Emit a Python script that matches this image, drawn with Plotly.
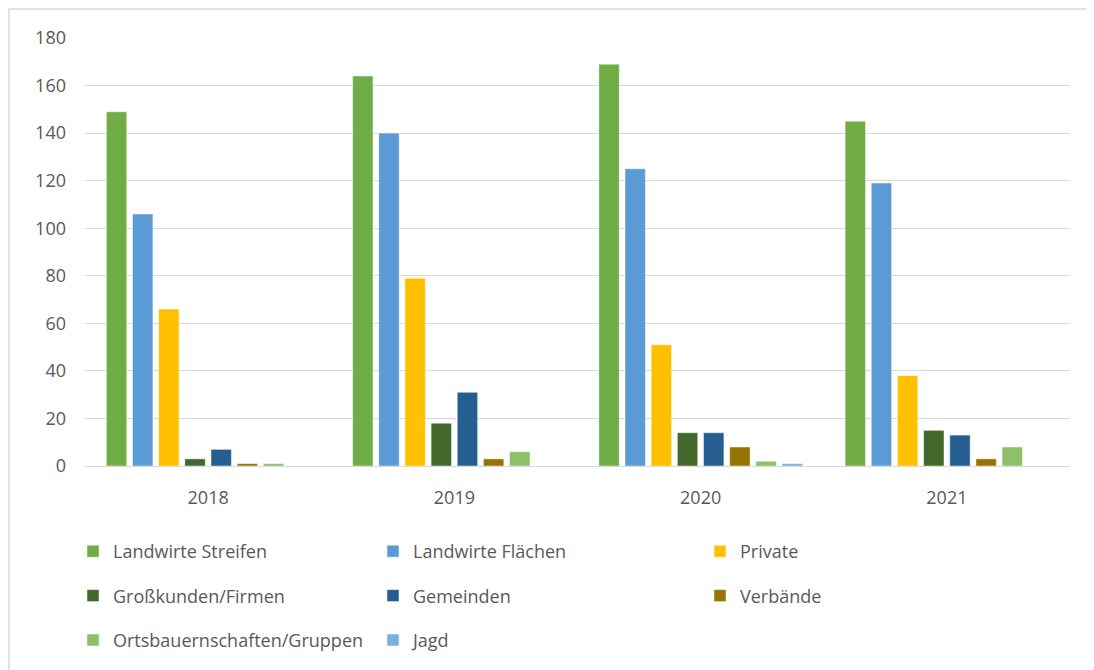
import plotly.graph_objects as go

years = ['2018', '2019', '2020', '2021']

landwirte_streifen = [149, 164, 169, 145]
landwirte_flaechen = [106, 140, 125, 119]
private = [66, 79, 51, 38]
grosskunden = [3, 18, 14, 15]
gemeinden = [7, 31, 14, 13]
verbaende = [1, 3, 8, 3]
ortsbauern = [1, 6, 2, 8]
jagd = [0, 0, 1, 0]

# name, values, colour, which legend column
series = [
    ('Landwirte Streifen', landwirte_streifen, '#70AD47', 'legend'),
    ('Landwirte Flächen', landwirte_flaechen, '#5B9BD5', 'legend2'),
    ('Private', private, '#FFC000', 'legend3'),
    ('Großkunden/Firmen', grosskunden, '#43682B', 'legend'),
    ('Gemeinden', gemeinden, '#255E91', 'legend2'),
    ('Verbände', verbaende, '#997300', 'legend3'),
    ('Ortsbauernschaften/Gruppen', ortsbauern, '#8CC168', 'legend'),
    ('Jagd', jagd, '#7CAFDD', 'legend2'),
]

# page has an 8px body margin, so the figure is shrunk and shifted by that
W, H = 1086, 662
L, R, T, B = 77, 24, 30, 204
pw, ph = W - L - R, H - T - B

def px_x(x):
    return (x - L) / pw

def px_y(y):
    return (H - B - y) / ph

fig = go.Figure()
for name, vals, col, leg in series:
    fig.add_trace(go.Bar(
        x=years, y=vals, name=name,
        marker=dict(color=col, line=dict(color='rgba(255,255,255,0.6)', width=0.8)),
        legend=leg, legendgroup=name,
    ))

font = dict(family='Open Sans, sans-serif', size=18, color='#595959')
leg_common = dict(orientation='v', font=font, tracegroupgap=18, traceorder='grouped',
                  xref='container', yref='container',
                  xanchor='left', yanchor='top', bgcolor='rgba(0,0,0,0)',
                  itemclick=False, itemdoubleclick=False)

fig.update_layout(
    width=W, height=H,
    margin=dict(l=L, r=R, t=T, b=B, autoexpand=False),
    plot_bgcolor='white', paper_bgcolor='white',
    font=font,
    barmode='group', bargap=0.15, bargroupgap=0.22,
    xaxis=dict(showgrid=False, showline=True, linecolor='#D9D9D9', linewidth=1,
               ticks='', ticklabelstandoff=15, tickfont=font),
    yaxis=dict(range=[0, 180], dtick=20, showgrid=True, gridcolor='#D9D9D9', gridwidth=1,
               zeroline=False, showline=False, ticks='', ticklabelstandoff=18, tickfont=font),
    legend=dict(x=65 / W, y=1 - 525 / H, **leg_common),
    legend2=dict(x=365 / W, y=1 - 525 / H, **leg_common),
    legend3=dict(x=692 / W, y=1 - 525 / H, **leg_common),
    shapes=[dict(type='rect', xref='paper', yref='paper',
                 x0=px_x(1), x1=px_x(W + 60), y0=px_y(H + 60), y1=px_y(1),
                 line=dict(color='#D9D9D9', width=1.5), fillcolor='rgba(0,0,0,0)', layer='below')],
)

fig.write_html('out.html')
